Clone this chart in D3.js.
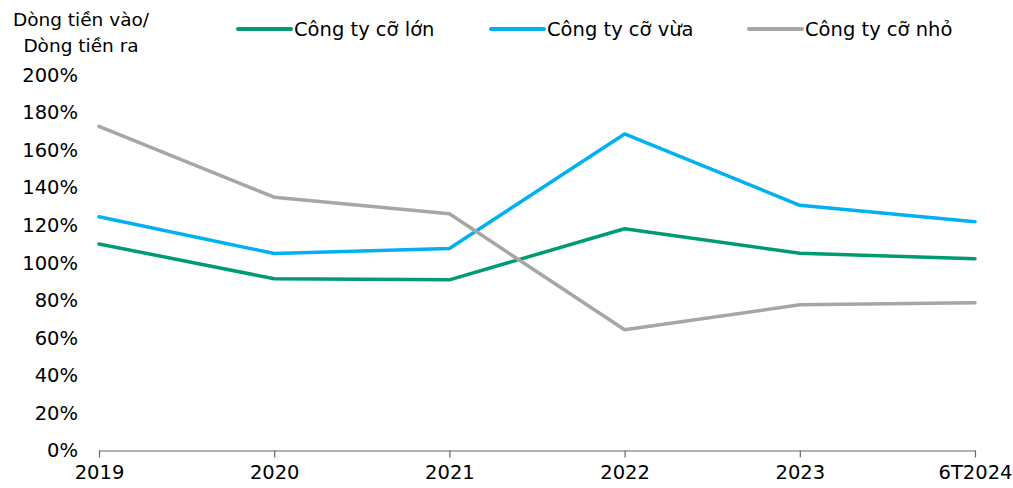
<!DOCTYPE html>
<html>
<head>
<meta charset="utf-8">
<script src="https://cdn.jsdelivr.net/npm/d3@7"></script>
<style>
  body { margin: 0; background: #fff; }
  text { font-family: "DejaVu Sans", sans-serif; fill: #000; }
</style>
</head>
<body>
<div id="chart"></div>
<script>
let years = ["2019", "2020", "2021", "2022", "2023", "6T2024"];
let seriesNames = ["Công ty cỡ lớn", "Công ty cỡ vừa", "Công ty cỡ nhỏ"];
let large = [110, 91.5, 90.9, 118.1, 105.1, 102.1];
let medium = [124.5, 104.9, 107.6, 168.6, 130.6, 121.9];
let small = [172.7, 134.9, 126.1, 64.3, 77.6, 78.7];
let yTicks = [0, 20, 40, 60, 80, 100, 120, 140, 160, 180, 200];

let width = 1013, height = 488;
let margin = {left: 99, right: 38, top: 75, bottom: 38};
let fontFam = "'DejaVu Sans', sans-serif";
let fontSize = "19.5px";

let svg = d3.select("#chart")
    .append("svg")
    .attr("width", width)
    .attr("height", height);

let x = d3.scalePoint()
    .domain(years)
    .range([margin.left, width - margin.right]);

let y = d3.scaleLinear()
    .domain([0, 200])
    .range([height - margin.bottom + 0.5, margin.top]);

let color = d3.scaleOrdinal()
    .domain(seriesNames)
    .range(["#009B72", "#00B0F0", "#A6A6A6"]);

// y axis labels only
svg.append("g")
    .attr("transform", `translate(${margin.left}, 0)`)
    .call(d3.axisLeft(y).tickValues(yTicks).tickSize(0).tickPadding(21)
      .tickFormat(function(d) { return d + "%"; }))
    .call(function(g) { g.select(".domain").remove(); })
    .selectAll("text")
    .style("font-size", fontSize)
    .style("font-family", fontFam)
    .attr("fill", "#000");

// x axis
let xAxis = svg.append("g")
    .attr("transform", `translate(0, ${y(0)})`)
    .call(d3.axisBottom(x).tickSize(7).tickPadding(8).tickSizeOuter(0));
xAxis.select(".domain").attr("stroke", "#666").attr("stroke-width", 1.2);
xAxis.selectAll(".tick line").attr("stroke", "#666").attr("stroke-width", 1.2);
xAxis.selectAll("text")
    .style("font-size", fontSize)
    .style("font-family", fontFam)
    .attr("fill", "#000");

// y title
let title = svg.append("text")
    .attr("text-anchor", "middle")
    .style("font-size", "18.5px");
title.append("tspan").attr("x", 81).attr("y", 26).text("Dòng tiền vào/");
title.append("tspan").attr("x", 81).attr("y", 52).text("Dòng tiền ra");

// lines
let data = [large, medium, small];
let line = d3.line()
    .x(function(d, i) { return x(years[i]); })
    .y(function(d) { return y(d); });

svg.selectAll(".series")
    .data(data)
    .enter()
    .append("path")
    .attr("class", "series")
    .attr("fill", "none")
    .attr("stroke", function(d, i) { return color(seriesNames[i]); })
    .attr("stroke-width", 3.5)
    .attr("stroke-linecap", "round")
    .attr("stroke-linejoin", "round")
    .attr("d", line);

// legend
let legendX = [238, 491, 749];
let legend = svg.selectAll(".legend")
    .data(seriesNames)
    .enter()
    .append("g")
    .attr("class", "legend")
    .attr("transform", function(d, i) { return `translate(${legendX[i]}, 29)`; });

legend.append("line")
    .attr("x1", 0).attr("x2", 53)
    .attr("stroke", function(d) { return color(d); })
    .attr("stroke-width", 4)
    .attr("stroke-linecap", "round");

legend.append("text")
    .attr("x", 56)
    .attr("dy", "0.35em")
    .style("font-size", fontSize)
    .text(function(d) { return d; });
</script>
</body>
</html>
